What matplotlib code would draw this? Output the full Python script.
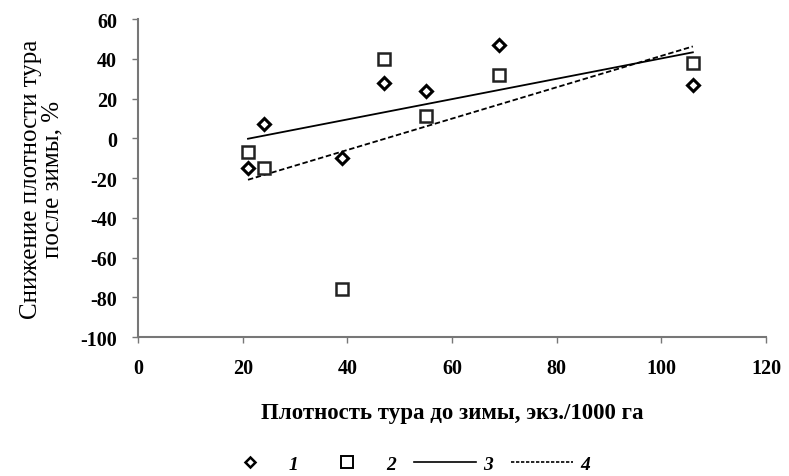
import matplotlib.pyplot as plt
import numpy as np
from matplotlib.lines import Line2D

plt.rcParams['font.family'] = ['Liberation Serif', 'DejaVu Serif']

# density before winter (ind./1000 ha) and decline after winter (%)
density_1 = [21, 24, 39, 47, 55, 69, 106]
decline_1 = [-15, 7, -10, 28, 24, 47, 27]
density_2 = [21, 24, 39, 47, 55, 69, 106]
decline_2 = [-7, -15, -76, 40, 11, 32, 38]

x_ticks = [0, 20, 40, 60, 80, 100, 120]
y_ticks = [-100, -80, -60, -40, -20, 0, 20, 40, 60]

fig = plt.figure(figsize=(7.89, 4.77), dpi=100)
ax = fig.add_axes([0.175, 0.291, 0.796, 0.667])

ax.plot(density_1, decline_1, linestyle='none', marker='D', ms=6.5,
        mfc='white', mec='black', mew=2.2, zorder=3)
ax.plot(density_2, decline_2, linestyle='none', marker='s', ms=9,
        mfc='white', mec='#222222', mew=1.8, zorder=3)

# linear trends for both series
for xs, ys, ls in [(density_1, decline_1, '-'), (density_2, decline_2, (0, (3, 1.5)))]:
    k, b = np.polyfit(xs, ys, 1)
    xx = np.array([min(xs), max(xs)])
    ax.plot(xx, k * xx + b, color='black', lw=1.3, linestyle=ls, zorder=2)

ax.set_xlim(0, 120)
ax.set_ylim(-100, 60)
ax.set_xticks(x_ticks)
ax.set_yticks(y_ticks)
ax.set_xticklabels([str(v) for v in x_ticks], fontsize=14.5, fontweight='bold')
ax.set_yticklabels([str(v) for v in y_ticks], fontsize=14.5, fontweight='bold')
ax.tick_params(axis='both', direction='out', length=4, width=1, color='#777777')
ax.tick_params(axis='x', pad=11)
ax.tick_params(axis='y', pad=11)

for side in ['top', 'right']:
    ax.spines[side].set_visible(False)
for side in ['left', 'bottom']:
    ax.spines[side].set_color('#777777')
    ax.spines[side].set_linewidth(1.5)

ax.set_xlabel('Плотность тура до зимы, экз./1000 га', fontsize=16.5,
              fontweight='bold', labelpad=17)
ax.set_ylabel('Снижение плотности тура\nпосле зимы, %', fontsize=18,
              linespacing=1.0, labelpad=12)

handles = [
    Line2D([], [], linestyle='none', marker='D', ms=5.5, mfc='white', mec='black', mew=1.8),
    Line2D([], [], linestyle='none', marker='s', ms=9, mfc='white', mec='black', mew=1.4),
    Line2D([], [], color='black', lw=1.2),
    Line2D([], [], color='black', lw=1.2, linestyle=(0, (2, 1))),
]
leg = fig.legend(handles, ['1', '2', '3', '4'], loc='lower center',
                 bbox_to_anchor=(0.513, -0.03), ncol=4, frameon=False,
                 handlelength=3.2, columnspacing=0.9, handletextpad=0.4,
                 prop={'size': 14, 'style': 'italic', 'weight': 'bold'})

fig.savefig('out.png', dpi=100)
